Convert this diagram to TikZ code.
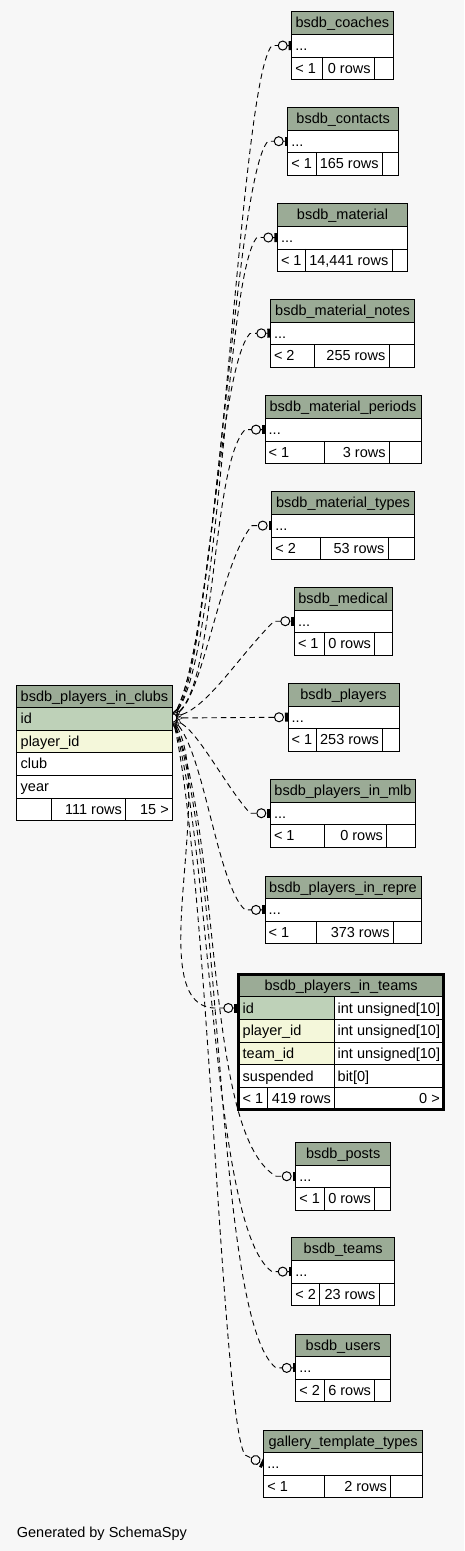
\documentclass[tikz,border=0pt]{standalone}
\usepackage{fontspec}
\setmainfont{Liberation Sans}
\usetikzlibrary{arrows.meta}
\definecolor{bg}{HTML}{F7F7F7}
\definecolor{hdr}{HTML}{9BAB96}
\definecolor{pk}{HTML}{BED1B8}
\definecolor{idx}{HTML}{F4F7DA}
\newcommand\tabfont{\fontsize{14.5}{17}\selectfont}
\tikzset{
  cell/.style={draw=black, line width=0.8pt},
  txt/.style={font=\tabfont, inner sep=0pt, text=black},
  rel/.style={dash pattern=on 5.5pt off 4pt, line width=0.9pt,
    {Straight Barb[reversed,length=10pt,width=8pt,line width=0.5pt]}-{Circle[length=10pt,width=10pt,line width=1pt,fill=bg,sep=1pt] Bar[width=9pt,line width=3pt]}},
}
\def\RowH{22.6}
% #1 id, #2 title, #3 x1, #4 x2, #5 top, #6 d1, #7 d2, #8 left, #9 rows
\newcommand\smalltab[9]{%
  \fill[white] (#3,#5+\RowH) rectangle (#4,#5+3*\RowH);
  \draw[cell,fill=hdr] (#3,#5) rectangle (#4,#5+\RowH);
  \draw[cell] (#3,#5+\RowH) rectangle (#4,#5+2*\RowH);
  \draw[cell] (#3,#5+2*\RowH) rectangle (#4,#5+3*\RowH);
  \draw[cell] (#6,#5+2*\RowH) -- (#6,#5+3*\RowH);
  \draw[cell] (#7,#5+2*\RowH) -- (#7,#5+3*\RowH);
  \node[txt,anchor=base] (#1-t) at ({(#3+#4)/2},#5+\RowH-6.5) {#2};
  \node[txt,anchor=base west] (#1-d) at (#3+3.5,#5+2*\RowH-6.5) {...};
  \node[txt,anchor=base west] (#1-p) at (#3+3.5,#5+3*\RowH-6.5) {#8};
  \node[txt,anchor=base east] (#1-r) at (#7-3.5,#5+3*\RowH-6.5) {#9};
}
\newcommand\tabanchor[3]{\coordinate (#1) at (#2,#3+1.5*\RowH);}
\begin{document}
\begin{tikzpicture}[x=1pt,y=-1pt]
\fill[bg] (0,0) rectangle (464,1551);
\useasboundingbox (0,0) rectangle (464,1551);

% connector end points
\coordinate (src) at (172.7,718);
\tabanchor{coaches}{291.7}{11.7}
\tabanchor{contacts}{287.7}{107.3}
\tabanchor{material}{277.3}{203.7}
\tabanchor{notes}{270.3}{299.3}
\tabanchor{periods}{265}{395.7}
\tabanchor{types}{271.7}{491.7}
\tabanchor{medical}{294.3}{587.3}
\tabanchor{players}{288}{683.3}
\tabanchor{mlb}{270.3}{779.3}
\tabanchor{repre}{265}{876}
\tabanchor{posts}{295.7}{1142.3}
\tabanchor{teams}{291.7}{1237.7}
\tabanchor{users}{295.7}{1334}
\tabanchor{gallery}{263.7}{1430}
\coordinate (pit) at (237.3,1008);

% connectors
\draw[rel] (src) .. controls (222,617) and (240,80) .. (272,45.5) -- (coaches);
\draw[rel] (src) .. controls (216,632) and (235,176) .. (268,141.2) -- (contacts);
\draw[rel] (src) .. controls (220,646) and (226,272) .. (257,237.4) -- (material);
\draw[rel] (src) .. controls (208,660) and (218,368) .. (250,333.5) -- (notes);
\draw[rel] (src) .. controls (216,675) and (212,464) .. (245,429.6) -- (periods);
\draw[rel] (src) .. controls (204,689) and (222,560) .. (252,525.6) -- (types);
\draw[rel] (src) .. controls (210,704) and (239,656) .. (274,621.2) -- (medical);
\draw[rel] (src) -- (players);
\draw[rel] (src) .. controls (200,735) and (225,785) .. (250,813.2) -- (mlb);
\draw[rel] (src) .. controls (205,760) and (218,885) .. (245,909.9) -- (repre);
\draw[rel] (src) .. controls (215,800) and (140,1012) .. (218,1008) -- (pit);
\draw[rel] (src) .. controls (222,850) and (205,1135) .. (276,1176.2) -- (posts);
\draw[rel] (src) .. controls (212,860) and (212,1230) .. (272,1271.6) -- (teams);
\draw[rel] (src) .. controls (224,870) and (215,1320) .. (276,1367.9) -- (users);
\draw[rel] (src) .. controls (208,880) and (222,1420) .. (245,1455) -- (gallery);

% small tables
\smalltab{coaches}{bsdb\_coaches}{291.7}{393}{11.7}{322.3}{374.3}{< 1}{0 rows}
\smalltab{contacts}{bsdb\_contacts}{287.7}{398.7}{107.3}{316}{382.3}{< 1}{165 rows}
\smalltab{material}{bsdb\_material}{277.3}{407.7}{203.7}{305}{392}{< 1}{14,441 rows}
\smalltab{notes}{bsdb\_material\_notes}{270.3}{414.7}{299.3}{314.7}{389}{< 2}{255 rows}
\smalltab{periods}{bsdb\_material\_periods}{265}{421}{395.7}{324}{389.3}{< 1}{3 rows}
\smalltab{types}{bsdb\_material\_types}{271.7}{414.3}{491.7}{320}{388}{< 2}{53 rows}
\smalltab{medical}{bsdb\_medical}{294.3}{392}{587.3}{324}{374.7}{< 1}{0 rows}
\smalltab{players}{bsdb\_players}{288}{399}{683.3}{316}{382.7}{< 1}{253 rows}
\smalltab{mlb}{bsdb\_players\_in\_mlb}{270.3}{415.7}{779.3}{324}{386.7}{< 1}{0 rows}
\smalltab{repre}{bsdb\_players\_in\_repre}{265}{421}{876}{316}{393.3}{< 1}{373 rows}
\smalltab{posts}{bsdb\_posts}{295.7}{390.7}{1142.3}{324.3}{374.7}{< 1}{0 rows}
\smalltab{teams}{bsdb\_teams}{291.7}{394.7}{1237.7}{319.7}{379}{< 2}{23 rows}
\smalltab{users}{bsdb\_users}{295.7}{390.7}{1334}{324.3}{374.7}{< 2}{6 rows}
\smalltab{gallery}{gallery\_template\_types}{263.7}{422.7}{1430}{324}{390.7}{< 1}{2 rows}

% main table bsdb_players_in_clubs
\draw[cell,fill=hdr] (16.3,685) rectangle (172.7,707.5);
\draw[cell,fill=pk] (16.3,707.5) rectangle (172.7,730);
\draw[cell,fill=idx] (16.3,730) rectangle (172.7,752.7);
\draw[cell,fill=white] (16.3,752.7) rectangle (172.7,775.3);
\draw[cell,fill=white] (16.3,775.3) rectangle (172.7,798);
\draw[cell,fill=white] (16.3,798) rectangle (172.7,820.7);
\draw[cell] (51,798) -- (51,820.7);
\draw[cell] (125.7,798) -- (125.7,820.7);
\node[txt,anchor=base] (clubs-t) at (94.5,701) {bsdb\_players\_in\_clubs};
\node[txt,anchor=base west] (clubs-id) at (20.5,723.5) {id};
\node[txt,anchor=base west] (clubs-pl) at (20.5,746.2) {player\_id};
\node[txt,anchor=base west] (clubs-cl) at (20.5,768.8) {club};
\node[txt,anchor=base west] (clubs-yr) at (20.5,791.5) {year};
\node[txt,anchor=base east] (clubs-rows) at (122,814.2) {111 rows};
\node[txt,anchor=base east] (clubs-ch) at (169,814.2) {15 >};

% focus table bsdb_players_in_teams
\draw[cell,fill=hdr] (238.7,974.2) rectangle (443.5,996.7);
\draw[cell,fill=pk] (238.7,996.7) rectangle (334.3,1019.3);
\draw[cell,fill=white] (334.3,996.7) rectangle (443.5,1019.3);
\draw[cell,fill=idx] (238.7,1019.3) rectangle (334.3,1042);
\draw[cell,fill=white] (334.3,1019.3) rectangle (443.5,1042);
\draw[cell,fill=idx] (238.7,1042) rectangle (334.3,1064.7);
\draw[cell,fill=white] (334.3,1042) rectangle (443.5,1064.7);
\draw[cell,fill=white] (238.7,1064.7) rectangle (334.3,1087.5);
\draw[cell,fill=white] (334.3,1064.7) rectangle (443.5,1087.5);
\draw[cell,fill=white] (238.7,1087.5) rectangle (443.5,1109.6);
\draw[cell] (267.7,1087.5) -- (267.7,1109.6);
\draw[cell] (334.3,1087.5) -- (334.3,1109.6);
\draw[draw=black,line width=3pt] (238.7,974.2) rectangle (443.5,1109.6);
\node[txt,anchor=base] (pit-t) at (341.1,990.3) {bsdb\_players\_in\_teams};
\node[txt,anchor=base west] (pit-id) at (242.5,1013) {id};
\node[txt,anchor=base west] (pit-pl) at (242.5,1035.7) {player\_id};
\node[txt,anchor=base west] (pit-tm) at (242.5,1058.3) {team\_id};
\node[txt,anchor=base west] (pit-su) at (242.5,1081) {suspended};
\node[txt,anchor=base west] (pit-idt) at (337.5,1013) {int unsigned[10]};
\node[txt,anchor=base west] (pit-plt) at (337.5,1035.7) {int unsigned[10]};
\node[txt,anchor=base west] (pit-tmt) at (337.5,1058.3) {int unsigned[10]};
\node[txt,anchor=base west] (pit-sut) at (337.5,1081) {bit[0]};
\node[txt,anchor=base west] (pit-par) at (242.5,1103.3) {< 1};
\node[txt,anchor=base east] (pit-rows) at (331,1103.3) {419 rows};
\node[txt,anchor=base east] (pit-ch) at (440,1103.3) {0 >};

\node[txt,anchor=base west] (gen) at (16.7,1537) {Generated by SchemaSpy};
\end{tikzpicture}
\end{document}
